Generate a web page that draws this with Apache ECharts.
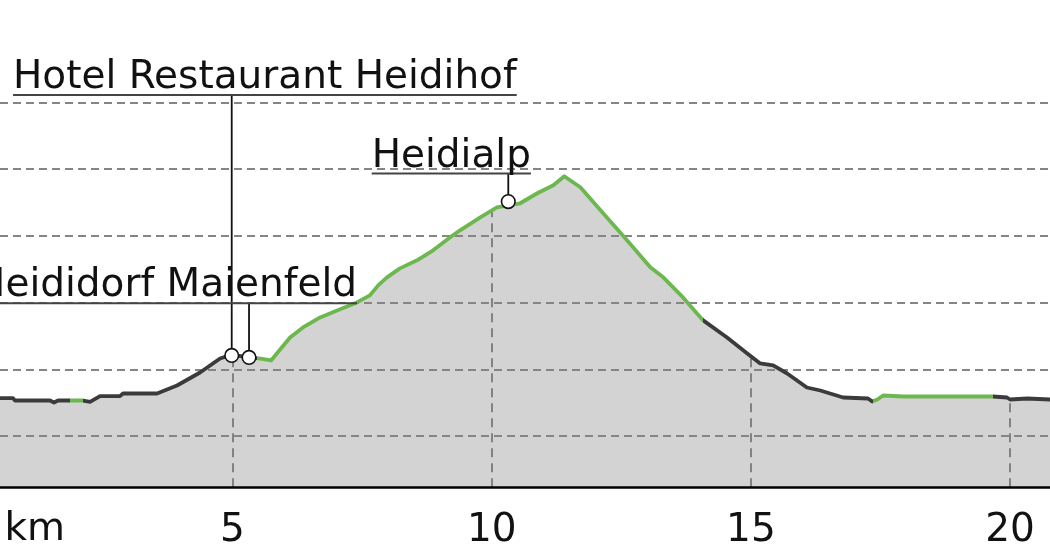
<!DOCTYPE html>
<html><head><meta charset="utf-8">
<script src="https://cdn.jsdelivr.net/npm/echarts@6/dist/echarts.min.js"></script>
<style>html,body{margin:0;padding:0;background:#fff}#c{width:1050px;height:560px}</style>
</head><body><div id="c"></div>
<script>
// ---- data ----
const distanceKm = [0.515,0.766,0.805,1.480,1.557,1.634,1.866,2.117,2.252,2.444,2.830,2.888,3.544,3.930,4.374,4.760,4.972,5.319,5.570,5.744,6.11,6.36,6.69,7.017,7.40,7.65,7.81,7.98,8.23,8.56,8.87,9.20,9.39,9.78,10.10,10.32,10.55,10.88,11.19,11.40,11.71,12.15,12.61,13.06,13.31,13.69,14.08,14.54,14.93,15.18,15.43,15.70,16.08,16.34,16.78,17.26,17.34,17.44,17.55,17.94,19.67,19.94,20.00,20.33,20.77];
const elevationM = [514,514,507,507,501,507,507,507,503,520,520,528,528,552,591,633,644,637,632,627,696,726,756,777,801,822,852,876,903,927,957,996,1017,1056,1086,1092,1098,1128,1152,1179,1146,1068,987,906,876,816,747,696,648,618,612,588,546,537,516,513,504,510,522,519,519,516,510,513,510];
const greenRangesKm = [[1.866,2.117],[5.47,14.08],[17.36,19.68]];
const poiNames = ['Hotel Restaurant Heidihof','Heididorf Maienfeld','Heidialp'];
const poiKm = [4.985, 5.319, 10.32];
const poiElev = [642, 636, 1103];
const xTickValues = [5,10,15,20];
const gridElevations = [400,600,800,1000,1200,1400];
const xRange = [0.515, 20.77];
const yRange = [247, 1707];

// ---- layout / style ----
const FONT = '39px "DejaVu Sans"';
const DARK = '#3b3b3b', GREEN = '#6cb84e';
const poiLayout = [
  {rise: 260.5, align: 'left',  dx: -218.7},
  {rise: 54.3,  align: 'right', dx: 108},
  {rise: 28.2,  align: 'left',  dx: -136.6}
];

const measureCtx = document.createElement('canvas').getContext('2d');
measureCtx.font = FONT;
function textW(s){ return measureCtx.measureText(s).width; }

function elevAt(x){
  for (let i = 1; i < distanceKm.length; i++) {
    if (x <= distanceKm[i]) {
      const t = (x - distanceKm[i-1]) / (distanceKm[i] - distanceKm[i-1]);
      return elevationM[i-1] + t * (elevationM[i] - elevationM[i-1]);
    }
  }
  return elevationM[elevationM.length-1];
}

const profile = distanceKm.map((d, i) => [d, elevationM[i]]);
const poiData = poiKm.map((d, i) => [d, poiElev[i], poiNames[i]]);

const hLines = gridElevations.map(v => ({yAxis: v, lineStyle: {color: '#858585', width: 2, type: [8,5]}}));
const vLines = xTickValues.map(x => [
  {coord: [x, yRange[0]], lineStyle: {color: '#6e6e6e', width: 1.6, type: [9,6]}},
  {coord: [x, elevAt(x)]}
]);

const pieces = greenRangesKm.map(r => ({gte: r[0], lt: r[1], color: GREEN}));

const chart = echarts.init(document.getElementById('c'), null, {renderer: 'canvas'});
chart.setOption({
  animation: false,
  backgroundColor: '#fff',
  grid: {left: 0, right: 0, top: 0, bottom: 72.7},
  xAxis: {
    type: 'value', min: xRange[0], max: xRange[1], z: 10,
    axisLine: {lineStyle: {color: '#000', width: 2.7}},
    axisTick: {show: false},
    splitLine: {show: false},
    axisLabel: {customValues: xTickValues, margin: 24, color: '#111', fontFamily: 'DejaVu Sans', fontSize: 39}
  },
  yAxis: {
    type: 'value', min: yRange[0], max: yRange[1],
    axisLine: {show: false}, axisTick: {show: false}, axisLabel: {show: false}, splitLine: {show: false}
  },
  visualMap: {
    type: 'piecewise', show: false, dimension: 0, seriesIndex: 2,
    pieces: pieces, outOfRange: {color: DARK}
  },
  graphic: [{
    type: 'text', left: 4.5, top: 510.5,
    style: {text: 'km', font: FONT, fill: '#111'}
  }],
  series: [
    {
      type: 'line', data: profile, z: 1, silent: true, showSymbol: false,
      lineStyle: {width: 0, opacity: 0},
      areaStyle: {color: '#d3d3d3', opacity: 1}
    },
    {
      type: 'line', data: [], z: 2, silent: true,
      markLine: {
        silent: true, symbol: 'none', z: 2, animation: false,
        label: {show: false},
        data: hLines.concat(vLines)
      }
    },
    {
      type: 'line', data: profile, z: 5, silent: true, showSymbol: false,
      lineStyle: {width: 3.8, cap: 'round', join: 'round'}
    },
    {
      type: 'custom', data: poiData, z: 20, silent: true, clip: false,
      renderItem: function(params, api){
        const i = params.dataIndex;
        const p = api.coord([api.value(0), api.value(1)]);
        const L = poiLayout[i];
        const name = poiNames[i];
        const w = textW(name);
        const uy = p[1] - L.rise;
        const left = L.align === 'left' ? p[0] + L.dx : p[0] + L.dx - w;
        return {type: 'group', children: [
          {type: 'line', shape: {x1: p[0], y1: uy, x2: p[0], y2: p[1]}, style: {stroke: '#111', lineWidth: 1.8}},
          {type: 'line', shape: {x1: left, y1: uy, x2: left + w, y2: uy}, style: {stroke: '#444', lineWidth: 2}},
          {type: 'text', style: {text: name, x: left, y: uy - 17, align: 'left', verticalAlign: 'middle', font: FONT, fill: '#111'}},
          {type: 'circle', shape: {cx: p[0], cy: p[1], r: 6.8}, style: {fill: '#fff', stroke: '#111', lineWidth: 1.6}}
        ]};
      }
    }
  ]
});
</script>
</body></html>
